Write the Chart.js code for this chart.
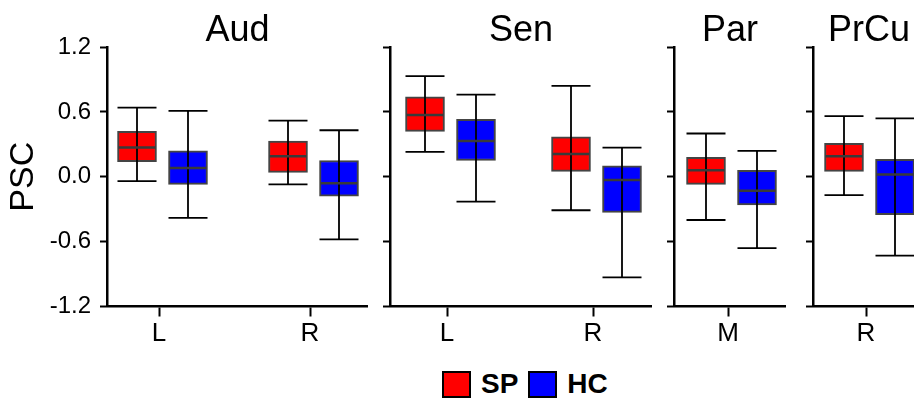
<!DOCTYPE html>
<html>
<head>
<meta charset="utf-8">
<script src="https://cdn.jsdelivr.net/npm/chart.js@4.4.0/dist/chart.umd.min.js"></script>
<style>
  html, body { margin: 0; padding: 0; background: #fff; }
  #fig { position: relative; width: 914px; height: 402px; overflow: hidden; font-family: "Liberation Sans", Arial, sans-serif; }
  #fig canvas { position: absolute; top: 0; }
  #legend { position: absolute; top: 370px; left: 442px; display: flex; align-items: center; font-weight: bold; font-size: 28px; line-height: 28px; }
  .sw { display: inline-block; width: 25px; height: 23px; border: 2px solid #000; }
</style>
</head>
<body>
<div id="fig">
  <canvas id="c0"></canvas>
  <canvas id="c1"></canvas>
  <canvas id="c2"></canvas>
  <canvas id="c3"></canvas>
  <div id="legend">
    <span class="sw" style="background:#ff0000"></span><span style="margin:0 10px 0 10px">SP</span>
    <span class="sw" style="background:#0000ff"></span><span style="margin-left:10px">HC</span>
  </div>
</div>
<script>
// regiones y lados (una caja por grupo)
const regiones = ["Aud", "Aud", "Sen", "Sen", "Par", "PrCu"];
const lados = ["L", "R", "L", "R", "M", "R"];
const paneles = ["Aud", "Sen", "Par", "PrCu"];

// SP (rojo): bigote inferior, Q1, mediana, Q3, bigote superior
const spMin = [-0.04, -0.07, 0.23, -0.31, -0.40, -0.17];
const spQ1  = [ 0.14,  0.04, 0.42,  0.05, -0.07,  0.05];
const spMed = [ 0.27,  0.19, 0.57,  0.21,  0.06,  0.19];
const spQ3  = [ 0.42,  0.33, 0.74,  0.37,  0.18,  0.31];
const spMax = [ 0.64,  0.52, 0.93,  0.84,  0.40,  0.56];

// HC (azul)
const hcMin = [-0.38, -0.58, -0.23, -0.93, -0.66, -0.73];
const hcQ1  = [-0.07, -0.18,  0.15, -0.33, -0.26, -0.35];
const hcMed = [ 0.08, -0.06,  0.33, -0.03, -0.13,  0.02];
const hcQ3  = [ 0.24,  0.15,  0.53,  0.10,  0.06,  0.16];
const hcMax = [ 0.61,  0.43,  0.76,  0.27,  0.24,  0.54];

const yTicks = [-1.2, -0.6, 0.0, 0.6, 1.2];

const FUENTE = '"Liberation Sans", Arial, sans-serif';

// posicion de cada panel en la figura (pixeles)
const disposicion = [
  { izq: 107, der: 368, marcas: [52, 203] },
  { izq: 390, der: 652, marcas: [57, 203] },
  { izq: 674, der: 786, marcas: [54] },
  { izq: 813, der: 925, marcas: [53] }
];

// bigotes y medianas dibujados con las escalas del grafico
const bigotes = {
  id: "bigotes",
  afterDatasetsDraw(chart) {
    const { ctx, scales: { x, y } } = chart;
    chart.data.datasets.forEach((ds) => {
      const mitad = ds.barThickness / 2;
      ds.data.forEach((d, j) => {
        const cx = x.getPixelForValue(d.x);
        const yMin = y.getPixelForValue(ds.bajo[j]);
        const yMax = y.getPixelForValue(ds.alto[j]);
        const yMed = y.getPixelForValue(ds.mediana[j]);
        ctx.save();
        ctx.strokeStyle = "#000";
        ctx.lineWidth = 1.8;
        ctx.beginPath();
        ctx.moveTo(cx, yMin); ctx.lineTo(cx, yMax);
        ctx.moveTo(cx - mitad, yMin); ctx.lineTo(cx + mitad, yMin);
        ctx.moveTo(cx - mitad, yMax); ctx.lineTo(cx + mitad, yMax);
        ctx.stroke();
        ctx.strokeStyle = "#3a3a3a";
        ctx.lineWidth = 2.5;
        ctx.beginPath();
        ctx.moveTo(cx - mitad + 1, yMed); ctx.lineTo(cx + mitad - 1, yMed);
        ctx.stroke();
        ctx.restore();
      });
    });
  }
};

paneles.forEach((panel, p) => {
  const lay = disposicion[p];
  const idx = regiones.map((r, k) => (r === panel ? k : -1)).filter((k) => k >= 0);
  const etiquetas = idx.map((k) => lados[k]);
  const anchoEje = p === 0 ? 107 : 10;
  const anchoArea = lay.der - lay.izq;

  const canvas = document.getElementById("c" + p);
  canvas.width = anchoEje + anchoArea;
  canvas.height = 350;
  canvas.style.left = (lay.izq - anchoEje) + "px";

  const serie = (nombre, color, q1, q3, med, lo, hi, desplaz) => ({
    label: nombre,
    data: idx.map((k, j) => ({ x: lay.marcas[j] + desplaz, y: [q1[k], q3[k]] })),
    bajo: idx.map((k) => lo[k]),
    alto: idx.map((k) => hi[k]),
    mediana: idx.map((k) => med[k]),
    backgroundColor: color,
    borderColor: "#444",
    borderWidth: 2,
    borderSkipped: false,
    barThickness: 39,
    grouped: false
  });

  new Chart(canvas.getContext("2d"), {
    type: "bar",
    data: {
      datasets: [
        serie("SP", "#ff0000", spQ1, spQ3, spMed, spMin, spMax, -22),
        serie("HC", "#0000ff", hcQ1, hcQ3, hcMed, hcMin, hcMax, 29)
      ]
    },
    options: {
      responsive: false,
      animation: false,
      layout: { padding: 0 },
      plugins: {
        legend: { display: false },
        tooltip: { enabled: false },
        title: {
          display: true,
          text: panel,
          fullSize: false,
          color: "#000",
          font: { family: FUENTE, size: 36, weight: "normal", lineHeight: 0.8 },
          padding: { top: 16.6, bottom: 1.6 }
        }
      },
      scales: {
        x: {
          type: "linear",
          offset: false,
          min: 0,
          max: anchoArea,
          afterBuildTicks: (s) => { s.ticks = lay.marcas.map((v) => ({ value: v })); },
          afterFit: (s) => { s.height = 43.5; },
          ticks: {
            callback: (v, i) => etiquetas[i],
            color: "#000",
            font: { family: FUENTE, size: 26 },
            padding: 2,
            maxRotation: 0,
            autoSkip: false
          },
          grid: { offset: false, drawOnChartArea: false, drawTicks: true, tickLength: 10, tickWidth: 2, color: "#000" },
          border: { display: true, color: "#000", width: 2.5 }
        },
        y: {
          min: -1.2,
          max: 1.2,
          afterBuildTicks: (s) => { s.ticks = yTicks.map((v) => ({ value: v })); },
          afterFit: (s) => { s.width = anchoEje; },
          ticks: {
            callback: (v) => (p === 0 ? v.toFixed(1) : ""),
            color: "#000",
            font: { family: FUENTE, size: 24 },
            padding: 9
          },
          grid: { drawOnChartArea: false, drawTicks: true, tickLength: 7, tickWidth: 2, color: "#000" },
          border: { display: true, color: "#000", width: 2.5 },
          title: {
            display: p === 0,
            text: "PSC",
            color: "#000",
            font: { family: FUENTE, size: 34, lineHeight: 1 },
            padding: { top: 7, bottom: 0 }
          }
        }
      }
    },
    plugins: [bigotes]
  });
});
</script>
</body>
</html>
